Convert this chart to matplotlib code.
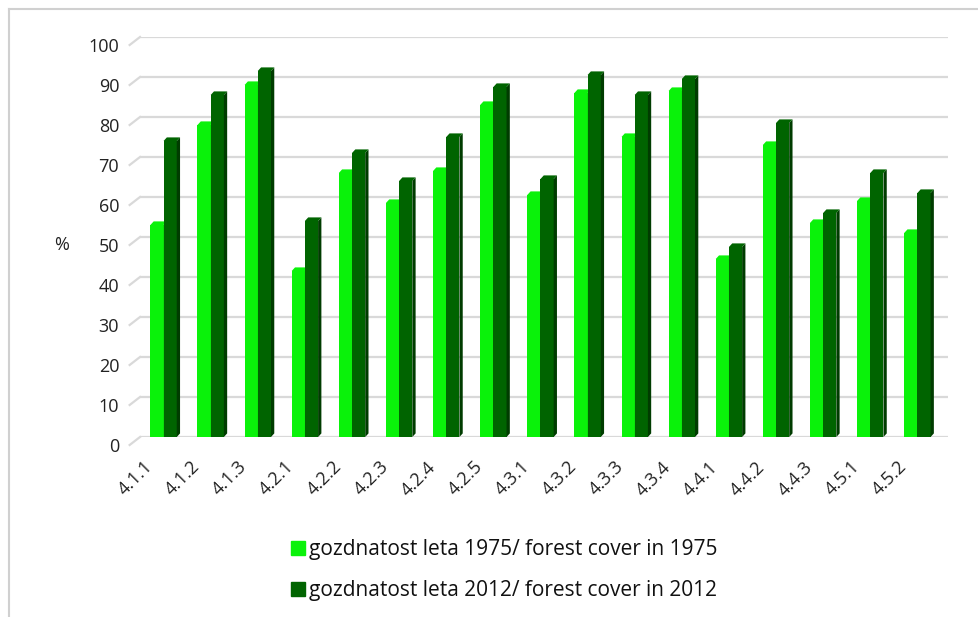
import numpy as np
import matplotlib.pyplot as plt
from matplotlib.patches import Polygon
from matplotlib.transforms import ScaledTranslation
from matplotlib.lines import Line2D

# data
regions = ["4.1.1", "4.1.2", "4.1.3", "4.2.1", "4.2.2", "4.2.3", "4.2.4", "4.2.5",
           "4.3.1", "4.3.2", "4.3.3", "4.3.4", "4.4.1", "4.4.2", "4.4.3", "4.5.1", "4.5.2"]
cover_1975 = [53, 78, 88, 41.5, 66, 58.5, 66.5, 83, 60.5, 86, 75, 86.5, 44.5, 73, 53.5, 59, 51]
cover_2012 = [74, 85.5, 91.5, 54, 71, 64, 75, 87.5, 64.5, 90.5, 85.5, 89.5, 47.5, 78.5, 56, 66, 61]
yticks = list(range(0, 101, 10))
lab_1975 = "gozdnatost leta 1975/ forest cover in 1975"
lab_2012 = "gozdnatost leta 2012/ forest cover in 2012"

LIGHT = "#0af20a"
LIGHT_SIDE = "#08c808"
DARK = "#006400"
DARK_SIDE = "#003c00"
GRID = "#d9d9d9"
FONT = "Open Sans"

fig = plt.figure(figsize=(9.79, 6.17), dpi=100)
ax = fig.add_axes([140/979, 1-437/617, (948-140)/979, (437-37)/617])

x = np.arange(len(regions))
bw = 0.28
dx, dy = 0.07, 0.9   # fake depth

def draw_bars(xc, vals, face, side):
    ax.bar(xc, vals, width=bw, color=face, zorder=3, linewidth=0)
    for xi, v in zip(xc, vals):
        r = xi + bw/2
        ax.add_patch(Polygon([(r, 0), (r, v), (r+dx, v+dy), (r+dx, dy)],
                             closed=True, color=side, zorder=3, lw=0))
        ax.add_patch(Polygon([(xi-bw/2, v), (r, v), (r+dx, v+dy), (xi-bw/2+dx, v+dy)],
                             closed=True, color=face, zorder=3, lw=0))

draw_bars(x - bw/2, cover_1975, LIGHT, LIGHT_SIDE)
draw_bars(x + bw/2, cover_2012, DARK, DARK_SIDE)

ax.set_xlim(-0.5, len(regions) - 0.35)
ax.set_ylim(0, 100)
ax.set_yticks(yticks)
ax.yaxis.grid(True, color=GRID, lw=1.6, zorder=0)
# slanted wall edge at the start of each gridline
for t in yticks:
    ax.plot([-0.72, -0.5], [t - 2.0, t], color=GRID, lw=1.6, clip_on=False, zorder=0)
ax.tick_params(axis="both", length=0)
for s in ax.spines.values():
    s.set_visible(False)

ax.set_yticklabels([str(t) for t in yticks], fontsize=13, family=FONT, color="#222222")
for lab in ax.get_yticklabels():
    lab.set_transform(lab.get_transform() + ScaledTranslation(-0.16, -0.08, fig.dpi_scale_trans))

ax.set_xticks(x)
ax.set_xticklabels(regions, rotation=45, ha="right", rotation_mode="anchor",
                   fontsize=13, family=FONT, color="#222222")
for lab in ax.get_xticklabels():
    lab.set_transform(lab.get_transform() + ScaledTranslation(-0.2, -0.16, fig.dpi_scale_trans))

fig.text(62/979, 1-245/617, "%", fontsize=13, family=FONT, ha="center", va="center", color="#222222")

handles = [Line2D([], [], marker="s", ls="", color=LIGHT, markersize=10),
           Line2D([], [], marker="s", ls="", color=DARK, markersize=10)]
fig.legend(handles, [lab_1975, lab_2012], loc="center", bbox_to_anchor=(503/979, 1-570/617),
           frameon=False, prop={"family": FONT, "size": 15}, handletextpad=0.1,
           labelspacing=0.95, handlelength=0.9, labelcolor="#111111")

# outer frame (top and left only)
fig.add_artist(Line2D([9/979, 9/979], [0, 1-9/617], transform=fig.transFigure, color="#d0d0d0", lw=1.5))
fig.add_artist(Line2D([9/979, 1], [1-9/617, 1-9/617], transform=fig.transFigure, color="#d0d0d0", lw=1.5))

fig.savefig("out.png", dpi=100)
